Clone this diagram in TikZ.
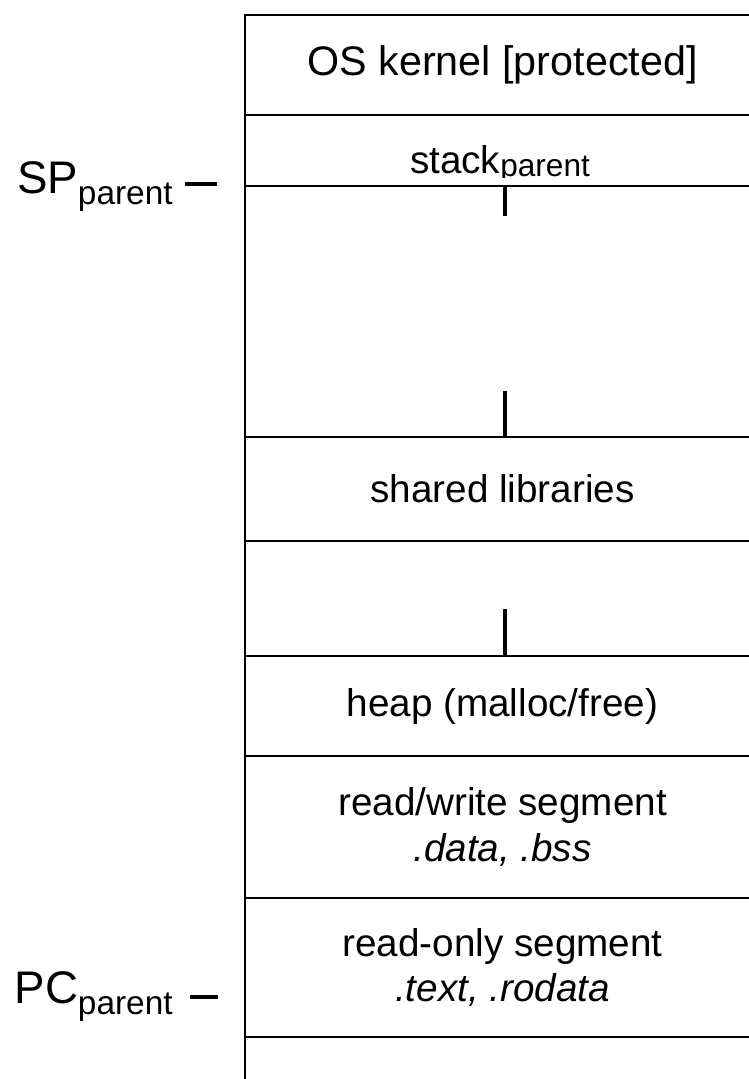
\documentclass[tikz,border=0pt]{standalone}
\usepackage{fontspec}
\setmainfont{Liberation Sans}
\usetikzlibrary{positioning}

\begin{document}
\begin{tikzpicture}[x=0.02cm, y=-0.02cm,
  seg/.style={rectangle, draw, fill=white, line width=1.3pt, inner sep=0pt,
    minimum width=10.3cm, align=center, font=\fontsize{22}{26}\selectfont},
  lbl/.style={inner sep=0pt, font=\fontsize{26}{30}\selectfont},
  growth/.style={line width=2.8pt}]
  \useasboundingbox (0,0) rectangle (749,1079);
  \clip (0,0) rectangle (749,1079);
  \node[seg, minimum height=2cm, font=\fontsize{23.5}{26}\selectfont] (kernel) at (502.5,65) {OS kernel [protected]};
  \node[seg, minimum height=1.42cm] (stack) at (502.5,150.5) {};
  \begin{scope}
    \clip (245,115) rectangle (760,177);
    \node[lbl, anchor=base, font=\fontsize{22}{26}\selectfont] (stacklbl) at (500,173) {stack\raisebox{-2pt}{\fontsize{18}{20}\selectfont parent}};
  \end{scope}
  \node[seg, minimum height=5.02cm] (free1) at (502.5,311.5) {};
  \node[seg, minimum height=2.08cm] (shlib) at (502.5,489) {shared libraries};
  \node[seg, minimum height=2.3cm] (free2) at (502.5,598.5) {};
  \node[seg, minimum height=2cm] (heap) at (502.5,706) {heap (malloc/free)};
  \node[seg, minimum height=2.84cm] (rwseg) at (502.5,827) {read/write segment\\\textit{.data, .bss}};
  \node[seg, minimum height=2.78cm] (roseg) at (502.5,967.5) {read-only segment\\\textit{.text, .rodata}};
  \node[seg, minimum height=1.66cm] (below) at (502.5,1078.5) {};
  \draw[growth] ([xshift=0.05cm]free1.north) -- ++(0,31);
  \draw[growth] ([xshift=0.05cm]shlib.north) -- ++(0,-45);
  \draw[growth] ([xshift=0.05cm]heap.north) -- ++(0,-46);
  \node[lbl, anchor=base east] (sp) at (173,193) {SP\raisebox{-6.8pt}{\fontsize{19}{22}\selectfont parent}};
  \node[lbl, anchor=base east] (pc) at (173,1003) {PC\raisebox{-6.8pt}{\fontsize{19}{22}\selectfont parent}};
  \draw[growth] ([xshift=0.24cm,yshift=0.18cm]sp.base east) -- ++(32,0);
  \draw[growth] ([xshift=0.34cm,yshift=0.12cm]pc.base east) -- ++(28,0);
\end{tikzpicture}
\end{document}
